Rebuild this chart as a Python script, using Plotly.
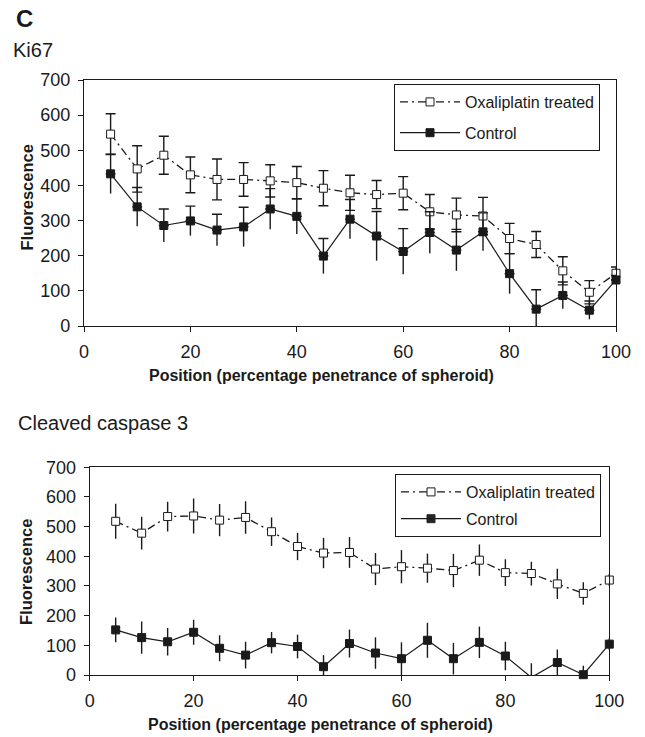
import plotly.graph_objects as go

# ---------------- data ----------------
positions = [5, 10, 15, 20, 25, 30, 35, 40, 45, 50, 55, 60, 65, 70, 75, 80, 85, 90, 95, 100]

ki67_ox = [546, 447, 486, 430, 417, 417, 413, 408, 392, 379, 374, 378, 325, 316, 313, 249, 232, 157, 96, 150]
ki67_ox_err = [58, 66, 54, 51, 58, 48, 46, 46, 50, 50, 40, 47, 49, 48, 53, 43, 37, 40, 33, 18]
ki67_ctrl = [433, 339, 286, 299, 273, 282, 333, 312, 199, 304, 256, 212, 266, 216, 268, 149, 48, 87, 45, 131]
ki67_ctrl_err = [56, 55, 47, 42, 45, 56, 58, 50, 50, 56, 70, 65, 59, 59, 54, 57, 55, 38, 26, 13]

casp_ox = [518, 478, 534, 536, 522, 531, 483, 433, 411, 413, 357, 365, 360, 352, 387, 345, 342, 307, 275, 320]
casp_ox_err = [59, 55, 50, 59, 54, 55, 48, 46, 51, 52, 54, 56, 49, 56, 53, 45, 40, 51, 38, 20]
casp_ctrl = [152, 126, 112, 144, 90, 67, 109, 96, 28, 106, 74, 55, 117, 55, 110, 64, -8, 42, 1, 104]
casp_ctrl_err = [42, 54, 46, 42, 44, 45, 36, 40, 39, 47, 53, 55, 59, 53, 53, 48, 48, 44, 30, 20]

x_ticks = [0, 20, 40, 60, 80, 100]
y_ticks = [0, 100, 200, 300, 400, 500, 600, 700]

series_names = ["Oxaliplatin treated", "Control"]
panel_titles = ["Ki67", "Cleaved caspase 3"]
x_title = "Position (percentage penetrance of spheroid)"
y_title = "Fluorescence"

# ---------------- figure ----------------
# The page body has an 8px default margin, so the figure is drawn 8px smaller
# and all positions below are given in window pixels and shifted by that offset.
OFF = 8
W, H = 645 - OFF, 737 - OFF
FONT = "Liberation Sans, Arial, sans-serif"
INK = "#1a1a1a"
DASH = "8px,4px,2px,4px"

fig = go.Figure()

def px_x(p):
    return (p - OFF) / W

def px_y(p):
    return 1 - (p - OFF) / H

# Top panel (Ki67) -------------------------------------------------
# Control error bars: lower half without caps
fig.add_trace(go.Scatter(
    x=positions, y=ki67_ctrl, mode="markers",
    marker=dict(size=1, color="rgba(0,0,0,0)"),
    error_y=dict(type="data", symmetric=False, array=[0] * len(ki67_ctrl_err),
                 arrayminus=ki67_ctrl_err, width=0, thickness=1.4, color=INK),
    showlegend=False, hoverinfo="skip", xaxis="x", yaxis="y", cliponaxis=False))

fig.add_trace(go.Scatter(
    x=positions, y=ki67_ox, name=series_names[0], mode="lines+markers",
    line=dict(color=INK, width=1.3, dash=DASH),
    marker=dict(symbol="square", size=8, color="white", line=dict(color=INK, width=1)),
    error_y=dict(type="data", array=ki67_ox_err, width=5, thickness=1.4, color=INK),
    xaxis="x", yaxis="y", legend="legend", legendgroup="a", cliponaxis=False))

fig.add_trace(go.Scatter(
    x=positions, y=ki67_ctrl, name=series_names[1], mode="lines+markers",
    line=dict(color=INK, width=1.2),
    marker=dict(symbol="square", size=8, color=INK, line=dict(color=INK, width=1)),
    error_y=dict(type="data", symmetric=False, array=ki67_ctrl_err,
                 arrayminus=[0] * len(ki67_ctrl_err), width=5, thickness=1.4, color=INK),
    xaxis="x", yaxis="y", legend="legend", legendgroup="b", cliponaxis=False))

# Bottom panel (Cleaved caspase 3) ---------------------------------
fig.add_trace(go.Scatter(
    x=positions, y=casp_ox, name=series_names[0], mode="lines+markers",
    line=dict(color=INK, width=1.3, dash=DASH),
    marker=dict(symbol="square", size=8, color="white", line=dict(color=INK, width=1)),
    error_y=dict(type="data", array=casp_ox_err, width=0, thickness=1.4, color=INK),
    xaxis="x2", yaxis="y2", legend="legend2", legendgroup="c", cliponaxis=False))

fig.add_trace(go.Scatter(
    x=positions, y=casp_ctrl, name=series_names[1], mode="lines+markers",
    line=dict(color=INK, width=1.2),
    marker=dict(symbol="square", size=8, color=INK, line=dict(color=INK, width=1),
                opacity=[0 if v < 0 else 1 for v in casp_ctrl]),
    error_y=dict(type="data", array=casp_ctrl_err, width=0, thickness=1.4, color=INK),
    xaxis="x2", yaxis="y2", legend="legend2", legendgroup="d", cliponaxis=False))

axis_common = dict(
    showline=True, linecolor=INK, linewidth=1.3, mirror=True,
    ticks="outside", ticklen=5, tickwidth=1.3, tickcolor=INK,
    showgrid=False, zeroline=False,
    tickfont=dict(family=FONT, size=18, color=INK),
    ticklabelstandoff=4, fixedrange=True, automargin=False,
)

fig.update_layout(
    width=W, height=H,
    margin=dict(l=0, r=0, t=0, b=0, pad=0, autoexpand=False),
    paper_bgcolor="white", plot_bgcolor="white",
    font=dict(family=FONT, color=INK),
    xaxis=dict(domain=[px_x(84), px_x(616)], range=[0, 100], tickvals=x_ticks,
               anchor="y", **axis_common),
    yaxis=dict(domain=[px_y(326), px_y(80)], range=[0, 700], tickvals=y_ticks,
               anchor="x", **axis_common),
    xaxis2=dict(domain=[px_x(89.7), px_x(609.3)], range=[0, 100], tickvals=x_ticks,
                anchor="y2", **axis_common),
    yaxis2=dict(domain=[px_y(675), px_y(467.3)], range=[0, 700], tickvals=y_ticks,
                anchor="x2", **axis_common),
    legend=dict(x=px_x(394), y=px_y(84), xanchor="left", yanchor="top",
                bordercolor=INK, borderwidth=1, bgcolor="white",
                font=dict(family=FONT, size=16, color=INK),
                tracegroupgap=7, itemwidth=60, traceorder="grouped"),
    legend2=dict(x=px_x(395), y=px_y(474), xanchor="left", yanchor="top",
                 bordercolor=INK, borderwidth=1, bgcolor="white",
                 font=dict(family=FONT, size=16, color=INK),
                 tracegroupgap=3, itemwidth=60, traceorder="grouped"),
    showlegend=True,
)

annotations = [
    dict(text="<b>C</b>", x=px_x(14), y=px_y(18.5), xanchor="left", yanchor="middle",
         font=dict(size=24)),
    dict(text=panel_titles[0], x=px_x(11), y=px_y(50), xanchor="left", yanchor="middle",
         font=dict(size=20)),
    dict(text=panel_titles[1], x=px_x(16), y=px_y(423), xanchor="left", yanchor="middle",
         font=dict(size=20)),
    dict(text="<b>" + x_title + "</b>", x=px_x(321.5), y=px_y(375), xanchor="center",
         yanchor="middle", font=dict(size=16)),
    dict(text="<b>" + x_title + "</b>", x=px_x(320), y=px_y(724), xanchor="center",
         yanchor="middle", font=dict(size=16)),
    dict(text="<b>" + y_title + "</b>", x=px_x(26.5), y=px_y(198), xanchor="center",
         yanchor="middle", textangle=-90, font=dict(size=16.5)),
    dict(text="<b>" + y_title + "</b>", x=px_x(26), y=px_y(572), xanchor="center",
         yanchor="middle", textangle=-90, font=dict(size=16.5)),
]
for a in annotations:
    a.update(xref="paper", yref="paper", showarrow=False)
    a["font"].update(family=FONT, color=INK)
fig.update_layout(annotations=annotations)

fig.write_html("out.html")
